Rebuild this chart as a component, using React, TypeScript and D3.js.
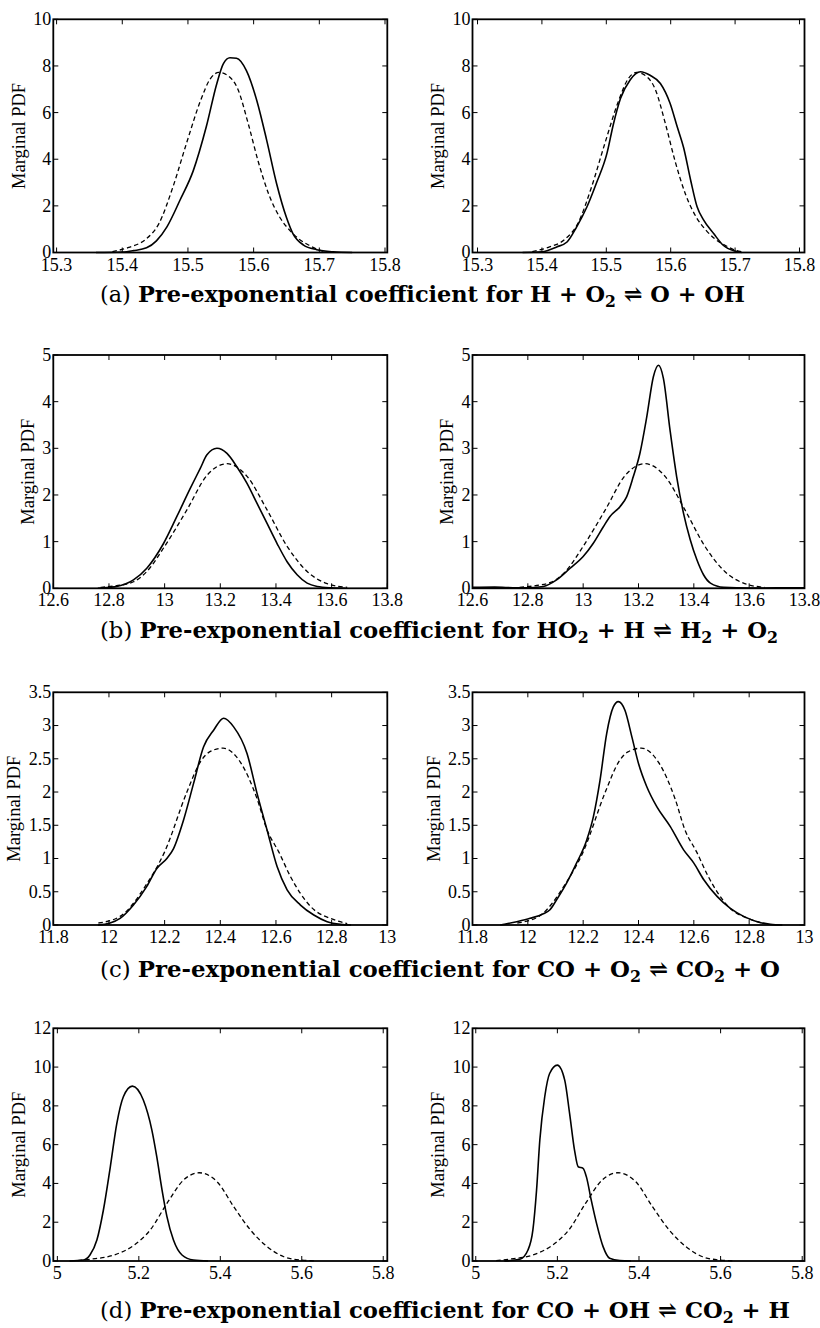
import React from "react";
import * as d3 from "d3";

type P = [number, number];

// ---------- Row (a): H + O2 <=> O + OH ----------
const aPrior: P[] = [[15.385,0.04],[15.41,0.22],[15.435,0.55],[15.456,1.25],[15.477,2.8],[15.498,4.7],[15.519,6.5],[15.534,7.45],[15.547,7.72],[15.56,7.6],[15.576,7.0],[15.592,5.5],[15.607,3.9],[15.623,2.5],[15.64,1.5],[15.655,0.95],[15.668,0.6],[15.685,0.3],[15.70,0.1],[15.71,0.03]];
const aPostLeft: P[] = [[15.36,0],[15.40,0.02],[15.417,0.08],[15.437,0.2],[15.452,0.5],[15.468,1.1],[15.488,2.25],[15.508,3.5],[15.528,5.4],[15.544,7.25],[15.554,8.1],[15.564,8.35],[15.574,8.33],[15.589,7.8],[15.605,6.5],[15.62,4.8],[15.635,2.95],[15.65,1.5],[15.66,0.8],[15.676,0.32],[15.696,0.12],[15.721,0.03],[15.75,0]];
const aPostRight: P[] = [[15.37,0],[15.40,0.03],[15.423,0.24],[15.439,0.45],[15.454,1.1],[15.47,1.96],[15.485,3.0],[15.501,4.25],[15.511,5.5],[15.522,6.6],[15.537,7.4],[15.553,7.75],[15.568,7.6],[15.584,7.25],[15.599,6.4],[15.61,5.4],[15.62,4.5],[15.631,3.1],[15.641,1.96],[15.651,1.4],[15.667,0.8],[15.682,0.3],[15.698,0.07],[15.71,0]];
const aXTicks = [15.3, 15.4, 15.5, 15.6, 15.7, 15.8];
const aYTicks = [0, 2, 4, 6, 8, 10];

// ---------- Row (b): HO2 + H <=> H2 + O2 ----------
const bPrior: P[] = [[12.77,0.02],[12.82,0.05],[12.888,0.14],[12.936,0.36],[13.0,0.9],[13.08,1.68],[13.152,2.42],[13.224,2.67],[13.296,2.4],[13.368,1.68],[13.44,0.9],[13.512,0.36],[13.584,0.1],[13.656,0.02]];
const bPostLeft: P[] = [[12.76,0],[12.8,0.02],[12.828,0.04],[12.888,0.18],[12.936,0.43],[12.996,0.96],[13.044,1.54],[13.092,2.14],[13.128,2.57],[13.152,2.86],[13.188,3.0],[13.224,2.89],[13.26,2.6],[13.296,2.25],[13.332,1.82],[13.368,1.39],[13.404,0.96],[13.44,0.57],[13.476,0.29],[13.512,0.11],[13.548,0.04],[13.6,0.01],[13.65,0]];
const bPostRight: P[] = [[12.6,0.02],[12.68,0.025],[12.76,0.01],[12.796,0.01],[12.856,0.04],[12.904,0.18],[12.953,0.43],[13.0,0.68],[13.036,0.96],[13.073,1.32],[13.097,1.54],[13.133,1.75],[13.157,1.96],[13.181,2.39],[13.205,2.89],[13.23,3.68],[13.254,4.54],[13.272,4.78],[13.29,4.5],[13.314,3.39],[13.338,2.39],[13.363,1.6],[13.387,1.04],[13.411,0.61],[13.435,0.29],[13.46,0.11],[13.508,0.02],[13.6,0.005],[13.7,0.01],[13.8,0.01]];
const bXTicks = [12.6, 12.8, 13, 13.2, 13.4, 13.6, 13.8];
const bYTicks = [0, 1, 2, 3, 4, 5];

// ---------- Row (c): CO + O2 <=> CO2 + O ----------
const cPrior: P[] = [[11.962,0.03],[12.04,0.13],[12.136,0.62],[12.2,1.1],[12.28,2.0],[12.328,2.45],[12.36,2.6],[12.41,2.66],[12.472,2.45],[12.532,1.9],[12.568,1.43],[12.61,1.1],[12.652,0.73],[12.724,0.28],[12.808,0.08],[12.856,0.02]];
const cPostLeft: P[] = [[11.96,0],[12.004,0.03],[12.04,0.1],[12.088,0.3],[12.136,0.58],[12.172,0.85],[12.208,1.0],[12.232,1.15],[12.268,1.58],[12.304,2.13],[12.34,2.68],[12.376,2.93],[12.412,3.11],[12.448,2.98],[12.496,2.58],[12.532,1.98],[12.568,1.43],[12.604,0.88],[12.64,0.53],[12.688,0.3],[12.736,0.15],[12.784,0.05],[12.832,0.01],[12.87,0]];
const cPostRight: P[] = [[11.9,0],[11.96,0.05],[12.008,0.1],[12.056,0.17],[12.08,0.23],[12.104,0.38],[12.14,0.63],[12.176,0.93],[12.213,1.28],[12.237,1.63],[12.261,2.18],[12.285,2.88],[12.309,3.28],[12.327,3.36],[12.351,3.23],[12.376,2.83],[12.4,2.43],[12.43,2.08],[12.466,1.78],[12.515,1.48],[12.563,1.13],[12.6,0.93],[12.636,0.68],[12.684,0.43],[12.732,0.25],[12.78,0.13],[12.829,0.05],[12.877,0.01],[12.92,0]];
const cXTicks = [11.8, 12, 12.2, 12.4, 12.6, 12.8, 13];
const cYTicks = [0, 0.5, 1, 1.5, 2, 2.5, 3, 3.5];

// ---------- Row (d): CO + OH <=> CO2 + H ----------
const dPrior: P[] = [[5.05,0.02],[5.08,0.09],[5.138,0.3],[5.187,0.8],[5.228,1.6],[5.269,2.97],[5.31,4.18],[5.348,4.55],[5.392,4.09],[5.433,2.8],[5.474,1.6],[5.515,0.74],[5.556,0.22],[5.597,0.05],[5.63,0.01]];
const dPostLeft: P[] = [[5.03,0],[5.064,0.05],[5.08,0.31],[5.097,1.08],[5.113,2.63],[5.13,4.86],[5.146,7.1],[5.162,8.47],[5.184,9.02],[5.211,8.3],[5.232,6.75],[5.244,5.38],[5.257,3.66],[5.269,2.29],[5.285,1.08],[5.306,0.31],[5.334,0.05],[5.37,0]];
const dPostRight: P[] = [[5.07,0],[5.108,0.09],[5.128,0.57],[5.14,1.6],[5.149,3.66],[5.157,6.24],[5.169,8.47],[5.181,9.67],[5.2,10.1],[5.218,9.33],[5.23,7.6],[5.242,5.72],[5.251,4.86],[5.263,4.78],[5.271,4.35],[5.283,3.14],[5.296,1.94],[5.312,0.74],[5.328,0.14],[5.353,0.02],[5.38,0]];
const dXTicks = [5, 5.2, 5.4, 5.6, 5.8];
const dYTicks = [0, 2, 4, 6, 8, 10, 12];

const yLabelText = "Marginal PDF";
const SERIF = "'Liberation Serif', 'Times New Roman', serif";

type PanelProps = {
  left: number; right: number; top: number; bottom: number;
  xDomain: [number, number]; yDomain: [number, number];
  xTicks: number[]; yTicks: number[];
  solid: P[]; dashed: P[]; yLabelOffset: number;
};

const fmt = (v: number) => String(+v.toFixed(2));

function Panel(p: PanelProps) {
  const x = d3.scaleLinear().domain(p.xDomain).range([p.left, p.right]);
  const y = d3.scaleLinear().domain(p.yDomain).range([p.bottom, p.top]);
  const line = d3.line<P>().x(d => x(d[0])).y(d => y(d[1])).curve(d3.curveMonotoneX);
  const tl = 5;
  return (
    <g>
      <path d={line(p.dashed) || ""} fill="none" stroke="#000" strokeWidth={1.3} strokeDasharray="4.5,3" />
      <path d={line(p.solid) || ""} fill="none" stroke="#000" strokeWidth={1.6} />
      {p.xTicks.map(t => (
        <g key={"x" + t}>
          <line x1={x(t)} x2={x(t)} y1={p.bottom} y2={p.bottom - tl} stroke="#000" strokeWidth={1} />
          <line x1={x(t)} x2={x(t)} y1={p.top} y2={p.top + tl} stroke="#000" strokeWidth={1} />
          <text x={x(t)} y={p.bottom + 18} textAnchor="middle" fontFamily={SERIF} fontSize={18}>{fmt(t)}</text>
        </g>
      ))}
      {p.yTicks.map(t => (
        <g key={"y" + t}>
          <line x1={p.left} x2={p.left + tl} y1={y(t)} y2={y(t)} stroke="#000" strokeWidth={1} />
          <line x1={p.right} x2={p.right - tl} y1={y(t)} y2={y(t)} stroke="#000" strokeWidth={1} />
          <text x={p.left - 2} y={y(t)} dy="0.33em" textAnchor="end" fontFamily={SERIF} fontSize={18}>{fmt(t)}</text>
        </g>
      ))}
      <rect x={p.left} y={p.top} width={p.right - p.left} height={p.bottom - p.top} fill="none" stroke="#000" strokeWidth={1.8} />
      <text
        transform={`translate(${p.left - p.yLabelOffset},${(p.top + p.bottom) / 2}) rotate(-90)`}
        textAnchor="middle" dy="0.33em" fontFamily={SERIF} fontSize={18.5}
      >{yLabelText}</text>
    </g>
  );
}

type CapPart = { t: string; sub?: boolean; bold?: boolean };

function Caption({ x, y, width, parts }: { x: number; y: number; width: number; parts: CapPart[] }) {
  let shifted = false;
  return (
    <text x={x} y={y} fontFamily="'DejaVu Serif', serif" fontSize={23} fill="#000" textLength={width} lengthAdjust="spacingAndGlyphs">
      {parts.map((pt, i) => {
        let dy = 0;
        if (pt.sub && !shifted) { dy = 5; shifted = true; }
        else if (!pt.sub && shifted) { dy = -5; shifted = false; }
        return (
          <tspan key={i} dy={dy || undefined} fontWeight={pt.bold ? "bold" : "normal"} fontSize={pt.sub ? 16 : undefined}>{pt.t}</tspan>
        );
      })}
    </text>
  );
}

const capA: CapPart[] = [{ t: "(a) " }, { t: "Pre-exponential coefficient for H + O", bold: true }, { t: "2", sub: true, bold: true }, { t: " \u21CC O + OH", bold: true }];
const capB: CapPart[] = [{ t: "(b) " }, { t: "Pre-exponential coefficient for HO", bold: true }, { t: "2", sub: true, bold: true }, { t: " + H \u21CC H", bold: true }, { t: "2", sub: true, bold: true }, { t: " + O", bold: true }, { t: "2", sub: true, bold: true }];
const capC: CapPart[] = [{ t: "(c) " }, { t: "Pre-exponential coefficient for CO + O", bold: true }, { t: "2", sub: true, bold: true }, { t: " \u21CC CO", bold: true }, { t: "2", sub: true, bold: true }, { t: " + O", bold: true }];
const capD: CapPart[] = [{ t: "(d) " }, { t: "Pre-exponential coefficient for CO + OH \u21CC CO", bold: true }, { t: "2", sub: true, bold: true }, { t: " + H", bold: true }];

export default function App() {
  const L = [53.3, 387.3];
  const R = [472.5, 804.5];
  return (
    <svg width={820} height={1328} style={{ position: "absolute", left: 0, top: 0, background: "#fff" }}>
      <rect width={820} height={1328} fill="#fff" />
      {/* row a */}
      <Panel left={L[0]} right={L[1]} top={19.3} bottom={252.5} xDomain={[15.295, 15.8035]} yDomain={[0, 10]} xTicks={aXTicks} yTicks={aYTicks} solid={aPostLeft} dashed={aPrior} yLabelOffset={34} />
      <Panel left={R[0]} right={R[1]} top={19.3} bottom={252.5} xDomain={[15.2922, 15.8078]} yDomain={[0, 10]} xTicks={aXTicks} yTicks={aYTicks} solid={aPostRight} dashed={aPrior} yLabelOffset={35} />
      <Caption x={100} y={302} width={645} parts={capA} />
      {/* row b */}
      <Panel left={L[0]} right={L[1]} top={355} bottom={588.3} xDomain={[12.6, 13.8]} yDomain={[0, 5]} xTicks={bXTicks} yTicks={bYTicks} solid={bPostLeft} dashed={bPrior} yLabelOffset={25} />
      <Panel left={R[0]} right={R[1]} top={355} bottom={588.3} xDomain={[12.6, 13.8]} yDomain={[0, 5]} xTicks={bXTicks} yTicks={bYTicks} solid={bPostRight} dashed={bPrior} yLabelOffset={26} />
      <Caption x={100} y={638} width={678} parts={capB} />
      {/* row c */}
      <Panel left={L[0]} right={L[1]} top={692.3} bottom={925} xDomain={[11.8, 13]} yDomain={[0, 3.5]} xTicks={cXTicks} yTicks={cYTicks} solid={cPostLeft} dashed={cPrior} yLabelOffset={39} />
      <Panel left={R[0]} right={R[1]} top={692.3} bottom={925} xDomain={[11.8, 13]} yDomain={[0, 3.5]} xTicks={cXTicks} yTicks={cYTicks} solid={cPostRight} dashed={cPrior} yLabelOffset={39} />
      <Caption x={100} y={977} width={680} parts={capC} />
      {/* row d */}
      <Panel left={L[0]} right={L[1]} top={1028.3} bottom={1261} xDomain={[4.99, 5.81]} yDomain={[0, 12]} xTicks={dXTicks} yTicks={dYTicks} solid={dPostLeft} dashed={dPrior} yLabelOffset={34} />
      <Panel left={R[0]} right={R[1]} top={1028.3} bottom={1261} xDomain={[4.992, 5.8056]} yDomain={[0, 12]} xTicks={dXTicks} yTicks={dYTicks} solid={dPostRight} dashed={dPrior} yLabelOffset={35} />
      <Caption x={100} y={1318} width={690} parts={capD} />
    </svg>
  );
}
